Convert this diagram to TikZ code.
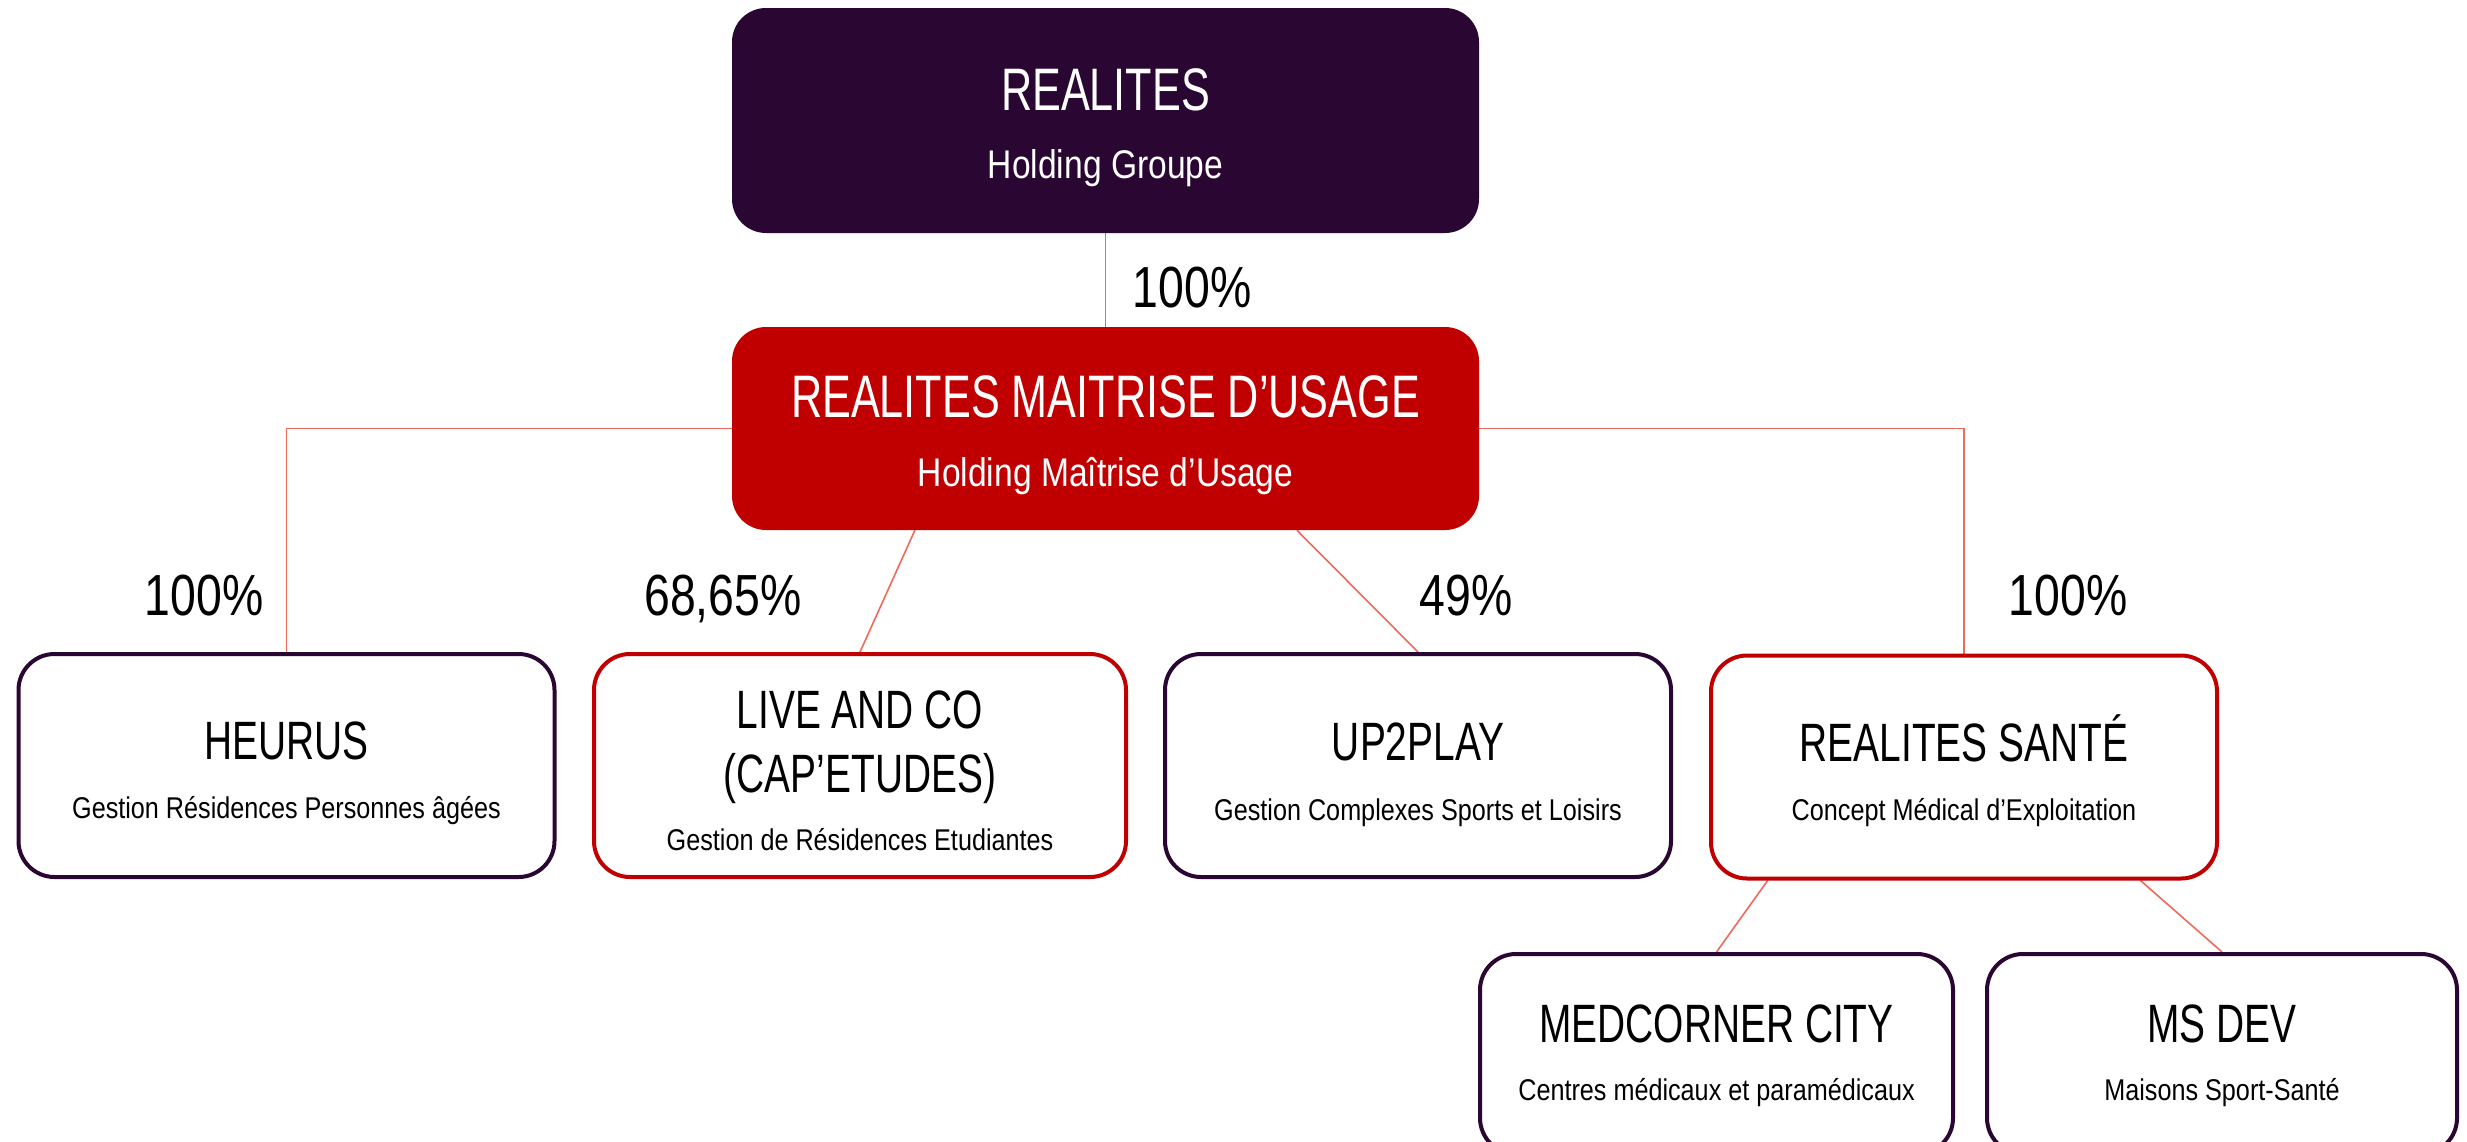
\documentclass[tikz,border=0pt]{standalone}
\usepackage{fontspec}
\setmainfont{Liberation Sans}
\newfontfamily\titlef[FakeStretch=0.72]{Liberation Sans}
\newfontfamily\subf[FakeStretch=0.84]{Liberation Sans}
\newfontfamily\pctf[FakeStretch=0.80]{Liberation Sans}
\usetikzlibrary{backgrounds,calc}
\definecolor{rdark}{HTML}{2A0632}
\definecolor{rred}{HTML}{C00000}
\definecolor{rline}{HTML}{EF6A5A}
\tikzset{
  headbox/.style={rectangle, rounded corners=34pt, inner sep=0pt, draw=none, minimum width=747pt, minimum height=204pt},
  subbox/.style={rectangle, rounded corners=36pt, inner sep=0pt, line width=4pt, fill=white, minimum height=223pt},
  link/.style={draw=rline, line width=1.6pt},
  bigtitle/.style={anchor=base, inner sep=0pt, text=white, font=\titlef\fontsize{60}{60}\selectfont},
  bigsub/.style={anchor=base, inner sep=0pt, text=white, font=\subf\fontsize{40}{40}\selectfont},
  smalltitle/.style={anchor=base, inner sep=0pt, text=black, font=\titlef\fontsize{54}{54}\selectfont},
  smallsub/.style={anchor=base, inner sep=0pt, text=black, font=\subf\fontsize{30}{30}\selectfont},
  pct/.style={anchor=base, inner sep=0pt, text=black, font=\pctf\fontsize{58}{58}\selectfont},
}
\begin{document}
\begin{tikzpicture}[x=1pt,y=-1pt]
\useasboundingbox (0,0) rectangle (2467,1141);

% boxes
\node[headbox, fill=rdark, minimum height=225pt] (realites) at (1105.5,120.5) {};
\node[headbox, fill=rred, minimum height=203pt] (rmu) at (1105.5,428.5) {};
\node[subbox, draw=rdark, minimum width=536pt] (heurus) at (286.5,765.5) {};
\node[subbox, draw=rred, minimum width=532pt] (live) at (860,765.5) {};
\node[subbox, draw=rdark, minimum width=506pt] (up2play) at (1418,765.5) {};
\node[subbox, draw=rred, minimum width=506pt] (sante) at (1964,767) {};
\node[subbox, draw=rdark, minimum width=473pt, minimum height=200pt] (medcorner) at (1716.5,1054) {};
\node[subbox, draw=rdark, minimum width=470pt, minimum height=200pt] (msdev) at (2222,1054) {};

% background and connectors
\begin{scope}[on background layer]
\path[fill=white] (0,0) rectangle (2467,1141);
\draw[link] (realites.south) -- (rmu.north);
\draw[link] (rmu.west) -| (heurus.north);
\draw[link] (rmu.east) -| (sante.north);
\draw[link] ($(rmu.south west)!0.245!(rmu.south east)$) -- (live.north);
\draw[link] ($(rmu.south west)!0.756!(rmu.south east)$) -- (up2play.north);
\draw[link] ($(sante.south west)!0.115!(sante.south east)$) -- (medcorner.north);
\draw[link] ($(sante.south west)!0.846!(sante.south east)$) -- (msdev.north);
\end{scope}

% texts
\node[bigtitle] (t-realites) at (1105.5,110) {REALITES};
\node[bigsub] (s-realites) at (1105.5,178) {Holding Groupe};
\node[bigtitle] (t-rmu) at (1105.5,417) {REALITES MAITRISE D’USAGE};
\node[bigsub] (s-rmu) at (1105.5,486) {Holding Maîtrise d’Usage};

\node[smalltitle] (t-heurus) at (286.5,759) {HEURUS};
\node[smallsub] (s-heurus) at (286.5,818) {Gestion Résidences Personnes âgées};
\node[smalltitle] (t-live1) at (860,728) {LIVE AND CO};
\node[smalltitle] (t-live2) at (860,792) {(CAP’ETUDES)};
\node[smallsub] (s-live) at (860,850) {Gestion de Résidences Etudiantes};
\node[smalltitle] (t-up2play) at (1418,760) {UP2PLAY};
\node[smallsub] (s-up2play) at (1418,820) {Gestion Complexes Sports et Loisirs};
\node[smalltitle] (t-sante) at (1964,761) {REALITES SANTÉ};
\node[smallsub] (s-sante) at (1964,820) {Concept Médical d’Exploitation};
\node[smalltitle] (t-medcorner) at (1716.5,1042) {MEDCORNER CITY};
\node[smallsub] (s-medcorner) at (1716.5,1100) {Centres médicaux et paramédicaux};
\node[smalltitle] (t-msdev) at (2222,1042) {MS DEV};
\node[smallsub] (s-msdev) at (2222,1100) {Maisons Sport-Santé};

% percentages
\node[pct] (p-rmu) at (1192,307) {100\%};
\node[pct] (p-heurus) at (204,615) {100\%};
\node[pct] (p-live) at (723,615) {68,65\%};
\node[pct] (p-up2play) at (1466,615) {49\%};
\node[pct] (p-sante) at (2068,615) {100\%};
\end{tikzpicture}
\end{document}
